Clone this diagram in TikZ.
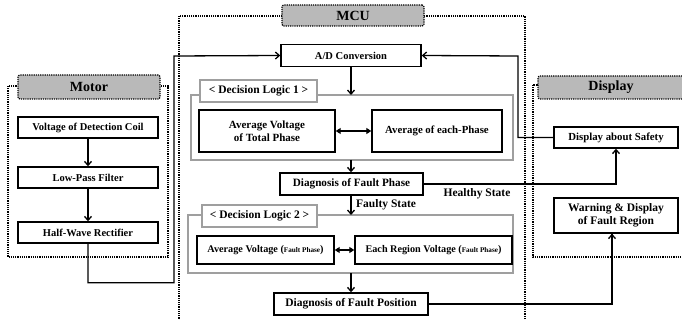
\documentclass[tikz,border=0pt]{standalone}
\usepackage{fontspec}
\setmainfont{Liberation Serif}
\usetikzlibrary{arrows.meta}
\begin{document}
\begin{tikzpicture}[x=1pt,y=-1pt,
  box/.style={draw=black,line width=1.4pt,fill=white,inner sep=0pt,align=center,font=\bfseries\fontsize{10.5}{11.5}\selectfont},
  title/.style={draw=black,densely dotted,line width=1.2pt,fill=gray!55,rounded corners=2pt,inner sep=0pt,font=\bfseries\fontsize{14}{15}\selectfont},
  region/.style={draw=black,densely dotted,line width=1.2pt},
  logic/.style={draw=gray!75,line width=1.6pt},
  logiclabel/.style={draw=gray!75,line width=1.6pt,fill=white,inner sep=0pt,font=\bfseries\fontsize{11.5}{12}\selectfont},
  conn/.style={line width=1.3pt,-{Straight Barb[length=4pt,width=7pt,line width=1.3pt]}},
  dbl/.style={line width=1.3pt,{Triangle[length=5pt,width=6pt]}-{Triangle[length=5pt,width=6pt]}},
  lbl/.style={font=\bfseries\fontsize{11.5}{12}\selectfont,inner sep=0pt}
]
\useasboundingbox (0,0) rectangle (682,320);
\clip (0,0) rectangle (682,320);
% regions
\draw[region] (8,86) rectangle (168,257);
\draw[region] (179,16) rectangle (525,330);
\draw[region] (533,85) rectangle (690,257);
% titles
\node[title,minimum width=142pt,minimum height=24pt] (tmotor) at (89,87) {Motor};
\node[title,minimum width=142pt,minimum height=21pt] (tmcu) at (353,15.5) {MCU};
\node[title,minimum width=146pt,minimum height=23pt] (tdisp) at (611,87.5) {Display};
% motor boxes
\node[box,minimum width=140pt,minimum height=21pt] (vdc) at (88,127.5) {Voltage of Detection Coil};
\node[box,minimum width=140pt,minimum height=21pt] (lpf) at (88,177.5) {Low-Pass Filter};
\node[box,minimum width=140pt,minimum height=21pt] (hwr) at (88,232.5) {Half-Wave Rectifier};
% MCU
\node[box,minimum width=140pt,minimum height=22pt] (adc) at (351,55.5) {A/D Conversion};
\draw[logic] (191,95) rectangle (513,160);
\coordinate (dl1top) at (351,95);
\coordinate (dl1bot) at (351,160);
\node[logiclabel,minimum width=117pt,minimum height=22pt] (dl1) at (258.5,91) {< Decision Logic 1 >};
\node[box,minimum width=136pt,minimum height=42pt,font=\bfseries\fontsize{11}{13}\selectfont] (avtp) at (267,131) {Average Voltage\\of Total Phase};
\node[box,minimum width=130pt,minimum height=42pt,font=\bfseries\fontsize{10.8}{12}\selectfont] (aep) at (437,131) {Average of each-Phase};
\node[box,minimum width=143pt,minimum height=22pt,font=\bfseries\fontsize{11.2}{12}\selectfont] (dfp) at (351.5,184) {Diagnosis of Fault Phase};
\draw[logic] (188,215) rectangle (513,273);
\coordinate (dl2top) at (351,215);
\coordinate (dl2bot) at (351,273);
\node[logiclabel,minimum width=115pt,minimum height=22pt] (dl2) at (259.5,216) {< Decision Logic 2 >};
\node[box,minimum width=137pt,minimum height=28pt,font=\bfseries\fontsize{10.2}{11}\selectfont] (avfp) at (265.5,250) {Average Voltage ({\fontsize{7.2}{8}\selectfont Fault Phase})};
\node[box,minimum width=157pt,minimum height=28pt,font=\bfseries\fontsize{10.2}{11}\selectfont] (erv) at (433.5,250) {Each Region Voltage ({\fontsize{7.2}{8}\selectfont Fault Phase})};
\node[box,minimum width=154pt,minimum height=22pt,font=\bfseries\fontsize{11.5}{12}\selectfont] (dfpos) at (351,304) {Diagnosis of Fault Position};
% display
\node[box,minimum width=124pt,minimum height=21pt,font=\bfseries\fontsize{10.8}{12}\selectfont] (das) at (616,137.5) {Display about Safety};
\node[box,minimum width=124pt,minimum height=35pt,font=\bfseries\fontsize{11.5}{13}\selectfont] (warn) at (616,215.5) {Warning \& Display\\of Fault Region};
% labels
\node[lbl] (healthy) at (477,194) {Healthy State};
\node[lbl,anchor=west] (faulty) at (356,205) {Faulty State};
% connectors
\draw[conn] (vdc) -- (lpf);
\draw[conn] (lpf) -- (hwr);
\draw[conn] (hwr.south) -- ++(0,39) -| (174,56) -- (adc.west);
\draw[conn] (das.west) -| (518,56) -- (adc.east);
\draw[conn] (adc.south -| dl1top) -- (dl1top);
\draw[dbl] (avtp) -- (aep);
\draw[conn] (dl1bot) -- (dfp.north -| dl1bot);
\draw[conn] (dfp.east) -| (das.south);
\draw[conn] (dfp.south -| dl2top) -- (dl2top);
\draw[dbl] (avfp) -- (erv);
\draw[conn] (dl2bot) -- (dfpos.north -| dl2bot);
\draw[conn] (dfpos.east) -| (612,0 |- warn.south) -- (warn.south -| 612,0);
\end{tikzpicture}
\end{document}
